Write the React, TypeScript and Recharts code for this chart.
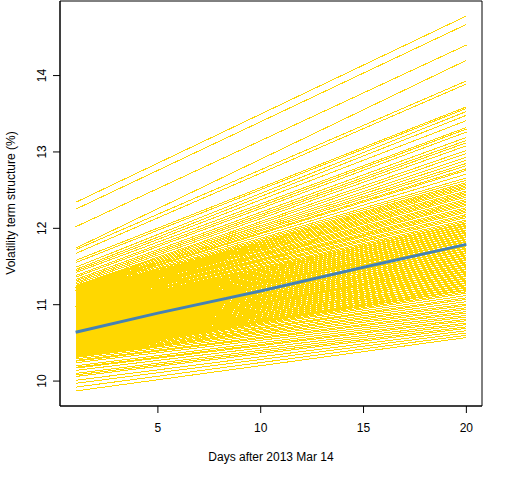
import { LineChart, Line, XAxis, YAxis, ReferenceArea } from "recharts"

// days on the x axis
const firstDay = 1
const lastDay = 20
const xTicks = [5, 10, 15, 20]
const yTicks = [10, 11, 12, 13, 14]

// term structure level on day 1, one value per scenario
const startLevels = [
  12.34, 12.25, 12.02, 11.74, 11.72, 11.67, 11.58, 11.55, 11.49, 11.46,
  11.44, 11.42, 11.38, 11.36, 11.33, 11.31, 11.29, 11.27, 11.25,
  11.24, 11.23, 11.22, 11.21, 11.2, 11.19, 11.18, 11.17, 11.16, 11.15,
  11.14, 11.13, 11.12, 11.11, 11.1, 11.1, 11.09, 11.08, 11.07, 11.06,
  11.05, 11.04, 11.03, 11.02, 11.01, 11.0, 10.99, 10.99, 10.98, 10.97,
  10.96, 10.95, 10.94, 10.93, 10.92, 10.91, 10.9, 10.89, 10.88, 10.88,
  10.87, 10.86, 10.85, 10.84, 10.83, 10.82, 10.81, 10.8, 10.79, 10.78,
  10.78, 10.77, 10.76, 10.75, 10.74, 10.73, 10.72, 10.71, 10.7, 10.69,
  10.68, 10.68, 10.67, 10.66, 10.65, 10.64, 10.63, 10.62, 10.61, 10.6,
  10.59, 10.58, 10.58, 10.57, 10.56, 10.55, 10.54, 10.53, 10.52, 10.51,
  10.5, 10.49, 10.48, 10.48, 10.47, 10.46, 10.45, 10.44, 10.43, 10.42,
  10.41, 10.4, 10.4, 10.39, 10.38, 10.37, 10.36, 10.35, 10.35, 10.34,
  10.33, 10.32, 10.31, 10.29, 10.27, 10.26, 10.24, 10.2, 10.18, 10.17,
  10.14, 10.1, 10.08, 10.06, 10.01, 9.97, 9.92, 9.87,
]

// level on day 20 for the same scenarios
const endLevels = [
  14.78, 14.67, 14.4, 14.2, 13.93, 13.89, 13.59, 13.57, 13.53, 13.48,
  13.41, 13.32, 13.3, 13.26, 13.19, 13.15, 13.12, 13.08, 13.02, 12.98,
  12.93, 12.89, 12.85, 12.82, 12.78, 12.76, 12.71, 12.66, 12.63,
  12.6, 12.58, 12.56, 12.54, 12.52, 12.49, 12.47, 12.45, 12.43, 12.41,
  12.38, 12.36, 12.34, 12.32, 12.3, 12.27, 12.25, 12.23, 12.21, 12.18,
  12.16, 12.14,
  12.11, 12.09, 12.07, 12.06, 12.04, 12.03, 12.01, 12.0, 11.98, 11.97,
  11.95, 11.94, 11.92, 11.91, 11.89, 11.88, 11.86, 11.85, 11.83, 11.82,
  11.8, 11.79, 11.77, 11.76, 11.74, 11.73, 11.71, 11.7, 11.68, 11.67,
  11.65, 11.64, 11.62, 11.61, 11.59, 11.58, 11.56, 11.55, 11.53, 11.52,
  11.5, 11.49, 11.47, 11.46, 11.44, 11.43, 11.41, 11.4, 11.38, 11.37,
  11.35, 11.34, 11.32, 11.31, 11.29, 11.28, 11.26, 11.25, 11.23, 11.22,
  11.2, 11.19, 11.17, 11.15,
  11.12, 11.09, 11.07, 11.04, 11.01, 10.99, 10.96, 10.94, 10.91, 10.89,
  10.86, 10.84, 10.81, 10.79, 10.76, 10.74, 10.71, 10.69, 10.66, 10.63,
  10.6, 10.57,
]

// average term structure (blue)
const meanDays = [1, 5, 10, 15, 20]
const meanLevels = [10.64, 10.89, 11.18, 11.49, 11.79]

const font = "'Liberation Sans', Arial, Helvetica, sans-serif"

const count = Math.min(startLevels.length, endLevels.length)
const scenarios = startLevels.slice(0, count).map((s, i) => [
  { day: firstDay, v: s },
  { day: lastDay, v: endLevels[i] },
])
const meanData = meanDays.map((d, i) => ({ day: d, v: meanLevels[i] }))

// R style 4% padding on both axes
const allLevels = [...startLevels, ...endLevels, ...meanLevels]
const yLo = Math.min(...allLevels)
const yHi = Math.max(...allLevels)
const yPad = (yHi - yLo) * 0.04
const xPad = (lastDay - firstDay) * 0.04
const xDomain = [firstDay - xPad, lastDay + xPad]
const yDomain = [yLo - yPad, yHi + yPad]

function XTick({ x, y, payload }: any) {
  return (
    <text x={x} y={y} dy={17} textAnchor="middle" fontSize={12} fontFamily={font} fill="#000">
      {payload.value}
    </text>
  )
}

function YTick({ x, y, payload }: any) {
  return (
    <text
      transform={`translate(${x - 5},${y}) rotate(-90)`}
      textAnchor="middle"
      fontSize={12}
      fontFamily={font}
      fill="#000"
    >
      {payload.value}
    </text>
  )
}

export default function App() {
  return (
    <div style={{ position: "absolute", left: 0, top: 0, width: 512, height: 480, background: "#fff" }}>
      <LineChart width={512} height={480} margin={{ top: 1, right: 30, left: 0, bottom: 0 }}>
        <XAxis
          dataKey="day"
          type="number"
          domain={xDomain}
          ticks={xTicks}
          allowDataOverflow
          height={74}
          tickSize={7}
          stroke="#000"
          tick={<XTick />}
          label={{
            content: () => (
              <text x={271} y={461} textAnchor="middle" fontSize={12} fontFamily={font} fill="#000">
                Days after 2013 Mar 14
              </text>
            ),
          }}
        />
        <YAxis
          type="number"
          domain={yDomain}
          ticks={yTicks}
          allowDataOverflow
          width={60}
          tickSize={7}
          stroke="#000"
          tick={<YTick />}
          label={{
            content: () => (
              <text
                transform="translate(15,203) rotate(-90)"
                textAnchor="middle"
                fontSize={12}
                fontFamily={font}
                fill="#000"
              >
                Volatility term structure (%)
              </text>
            ),
          }}
        />
        {scenarios.map((d, i) => (
          <Line
            key={i}
            data={d}
            dataKey="v"
            stroke="#FFD700"
            strokeWidth={1}
            dot={false}
            activeDot={false}
            isAnimationActive={false}
            shapeRendering="crispEdges"
          />
        ))}
        <Line
          data={meanData}
          dataKey="v"
          stroke="#4682B4"
          strokeWidth={3}
          dot={false}
          activeDot={false}
          isAnimationActive={false}
        />
        <ReferenceArea
          x1={xDomain[0]}
          x2={xDomain[1]}
          y1={yDomain[0]}
          y2={yDomain[1]}
          fill="none"
          stroke="#000"
          strokeWidth={1}
          ifOverflow="visible"
        />
      </LineChart>
    </div>
  )
}
